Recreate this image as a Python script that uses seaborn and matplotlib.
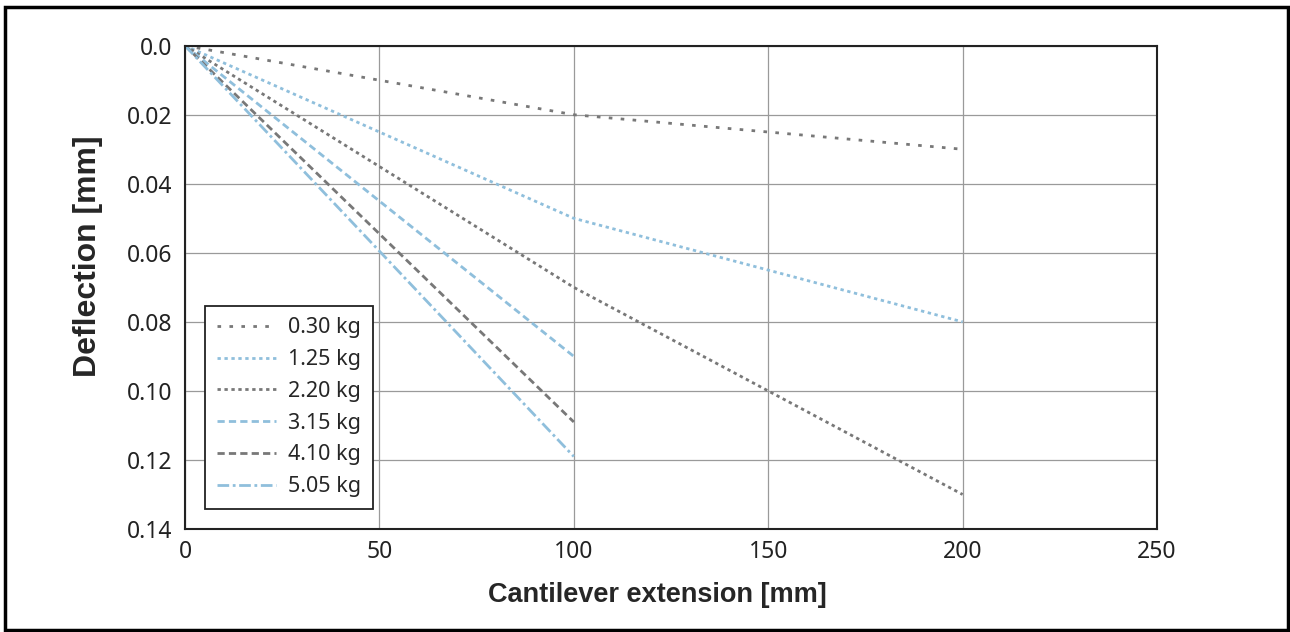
import matplotlib
matplotlib.use("Agg")
import matplotlib.pyplot as plt
from matplotlib.patches import Rectangle
import seaborn as sns

# values
extension_mm = [0, 100, 200]
loads = ["0.30 kg", "1.25 kg", "2.20 kg", "3.15 kg", "4.10 kg", "5.05 kg"]
defl_030 = [0.0, 0.020, 0.030]
defl_125 = [0.0, 0.050, 0.080]
defl_220 = [0.0, 0.070, 0.130]
defl_315 = [0.0, 0.090]
defl_410 = [0.0, 0.109]
defl_505 = [0.0, 0.119]
x_ticks = [0, 50, 100, 150, 200, 250]
y_ticks = [0.0, 0.02, 0.04, 0.06, 0.08, 0.10, 0.12, 0.14]
y_tick_labels = ["0.0", "0.02", "0.04", "0.06", "0.08", "0.10", "0.12", "0.14"]

series = [defl_030, defl_125, defl_220, defl_315, defl_410, defl_505]

gray = "#787878"
blue = "#8fbfdc"
colors = [gray, blue, gray, blue, gray, blue]
styles = [(0, (1.3, 3)), (0, (1.2, 1.3)), (0, (1.2, 1.3)),
          (0, (2.6, 1.5)), (0, (2.6, 1.5)), (0, (4.2, 1.3, 1, 1.3))]

sns.set_theme(style="white")
plt.rcParams["font.family"] = ["Noto Sans", "DejaVu Sans"]

fig = plt.figure(figsize=(12.9, 6.32), dpi=100)
ax = fig.add_axes([185 / 1290, 103 / 632, 972 / 1290, 483.3 / 632])

for load, vals, col, ls in zip(loads, series, colors, styles):
    sns.lineplot(x=extension_mm[:len(vals)], y=vals, ax=ax, color=col,
                 linestyle=ls, linewidth=2.0, label=load)

ax.set_xlim(0, 250)
ax.set_ylim(0.14, 0)
ax.set_xticks(x_ticks)
ax.set_xticklabels([str(t) for t in x_ticks])
ax.set_yticks(y_ticks)
ax.set_yticklabels(y_tick_labels)
ax.tick_params(length=0, labelsize=16.5, colors="#222222")
ax.tick_params(axis="y", pad=9)
ax.tick_params(axis="x", pad=8)
ax.grid(True, color="#9a9a9a", linewidth=0.9)
for s in ax.spines.values():
    s.set_visible(True)
    s.set_color("#222222")
    s.set_linewidth(1.5)
ax.set_xlabel("")
ax.set_ylabel("")

fig.text(657 / 1290, 1 - 595 / 632, "Cantilever extension [mm]", ha="center",
         va="center", fontsize=19.5, fontweight="bold", family="Liberation Sans")
fig.text(88 / 1290, 1 - 256 / 632, "Deflection [mm]", ha="center", va="center",
         rotation=90, fontsize=23, fontweight="bold", family="Liberation Sans")

leg = ax.legend(loc="lower left", bbox_to_anchor=(205 / 1290, 123 / 632),
                bbox_transform=fig.transFigure, borderaxespad=0,
                fontsize=15.5, frameon=True, fancybox=False, framealpha=1,
                handlelength=2.75, handletextpad=0.56, labelspacing=0.5,
                borderpad=0.55)
leg.get_frame().set_edgecolor("#222222")
leg.get_frame().set_linewidth(1.3)

# outer border around the whole picture
fig.patches.append(Rectangle((5 / 1290, 2 / 632), 1283 / 1290, 623 / 632,
                             transform=fig.transFigure, fill=False,
                             edgecolor="black", linewidth=2.5))

fig.savefig("out.png", dpi=100)
